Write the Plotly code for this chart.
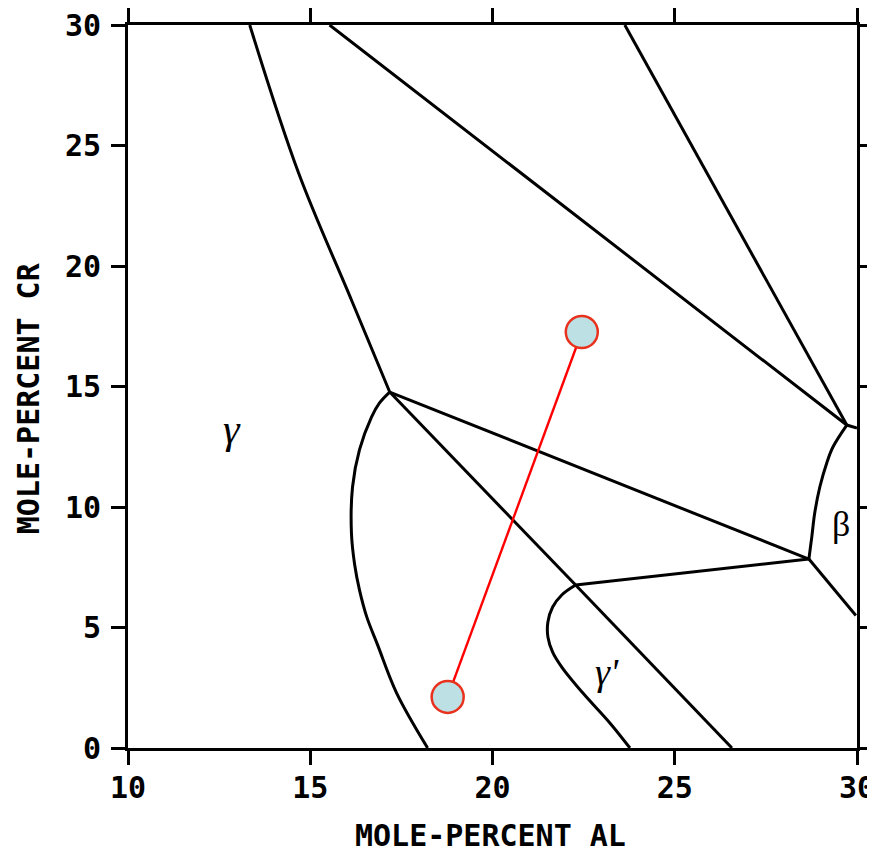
import plotly.graph_objects as go

# ---- data (mole-percent Al, mole-percent Cr) ----
# straight phase boundaries
line_a_x = [13.34, 14.68, 16.13, 17.18]
line_a_y = [30.0, 23.86, 18.59, 14.77]
line_b_x = [15.53, 29.72, 30.0]
line_b_y = [30.0, 13.40, 13.28]
line_c_x = [23.63, 29.72]
line_c_y = [30.0, 13.40]
line_d_x = [17.18, 28.68]
line_d_y = [14.77, 7.84]
line_e_x = [17.18, 22.28]
line_e_y = [14.77, 6.76]
line_f_x = [22.28, 28.68]
line_f_y = [6.76, 7.84]
line_g_x = [22.28, 26.57]
line_g_y = [6.76, 0.0]
line_h_x = [28.68, 29.97]
line_h_y = [7.84, 5.50]

# curved boundaries
beta_x = [29.72, 29.34, 29.17, 28.98, 28.84, 28.76, 28.68]
beta_y = [13.40, 12.49, 11.83, 10.83, 9.75, 8.76, 7.84]
gamma_x = [17.18, 16.90, 16.68, 16.35, 16.16, 16.13, 16.22, 16.35, 16.55, 16.85, 17.37, 18.22]
gamma_y = [14.77, 14.32, 13.73, 12.37, 10.83, 8.92, 7.59, 6.56, 5.44, 4.27, 2.28, 0.0]
gprime_x = [22.28, 21.90, 21.65, 21.52, 21.52, 21.65, 21.90, 22.48, 23.22, 23.77]
gprime_y = [6.76, 6.35, 5.85, 5.23, 4.61, 3.98, 3.36, 2.28, 1.04, 0.0]

# alloy tie line (two compositions)
alloy_x = [18.77, 22.45]
alloy_y = [2.12, 17.26]

x_ticks = [10, 15, 20, 25, 30]
y_ticks = [0, 5, 10, 15, 20, 25, 30]

phase_labels = ["γ", "β", "γ'"]
phase_x = [12.86, 29.56, 23.13]
phase_y = [13.25, 9.30, 3.14]
phase_sizes = [42, 36, 38]
phase_styles = ["italic", "normal", "italic"]

fig = go.Figure()

straight = [(line_b_x, line_b_y), (line_c_x, line_c_y),
            (line_d_x, line_d_y), (line_e_x, line_e_y), (line_f_x, line_f_y),
            (line_g_x, line_g_y), (line_h_x, line_h_y)]
for xs, ys in straight:
    fig.add_trace(go.Scatter(x=xs, y=ys, mode="lines",
                             line=dict(color="black", width=3),
                             hoverinfo="skip", showlegend=False))
for xs, ys in [(line_a_x, line_a_y), (beta_x, beta_y), (gamma_x, gamma_y), (gprime_x, gprime_y)]:
    fig.add_trace(go.Scatter(x=xs, y=ys, mode="lines",
                             line=dict(color="black", width=3, shape="spline", smoothing=1.0),
                             hoverinfo="skip", showlegend=False))

fig.add_trace(go.Scatter(x=alloy_x, y=alloy_y, mode="lines+markers",
                         line=dict(color="#ff0000", width=2.4),
                         marker=dict(size=32, color="#bde0e4",
                                     line=dict(color="#e8321e", width=2.5)),
                         cliponaxis=False, showlegend=False))

for t, x, y, s, st in zip(phase_labels, phase_x, phase_y, phase_sizes, phase_styles):
    fig.add_annotation(x=x, y=y, text=t, showarrow=False,
                       font=dict(family="Liberation Serif", size=s, color="black", style=st))

mono = dict(family="DejaVu Sans Mono", size=30, color="black", weight="bold")

fig.add_annotation(xref="paper", yref="paper", x=0.497, y=-0.1217,
                   xanchor="center", yanchor="middle",
                   text="MOLE-PERCENT AL", showarrow=False, font=mono)
fig.add_annotation(xref="paper", yref="y", x=-0.137, y=14.52, textangle=-90,
                   xanchor="center", yanchor="middle",
                   text="MOLE-PERCENT CR", showarrow=False, font=mono)

axis_common = dict(showgrid=False, zeroline=False, showline=True, linewidth=3,
                   linecolor="black", mirror="ticks", ticks="outside", ticklen=14,
                   tickwidth=3, tickcolor="black", tickfont=mono, automargin=False,
                   ticklabeloverflow="allow")
fig.update_xaxes(range=[10, 30], tickvals=x_ticks, ticklabelstandoff=-3, **axis_common)
fig.update_yaxes(range=[0, 30], tickvals=y_ticks, ticklabelstandoff=4, **axis_common)

# page body adds an 8px margin, so the plot area is offset to compensate
fig.update_layout(width=867, height=850, plot_bgcolor="white", paper_bgcolor="white",
                  margin=dict(l=120, r=18, t=17, b=110, autoexpand=False))

fig.write_html("out.html")
